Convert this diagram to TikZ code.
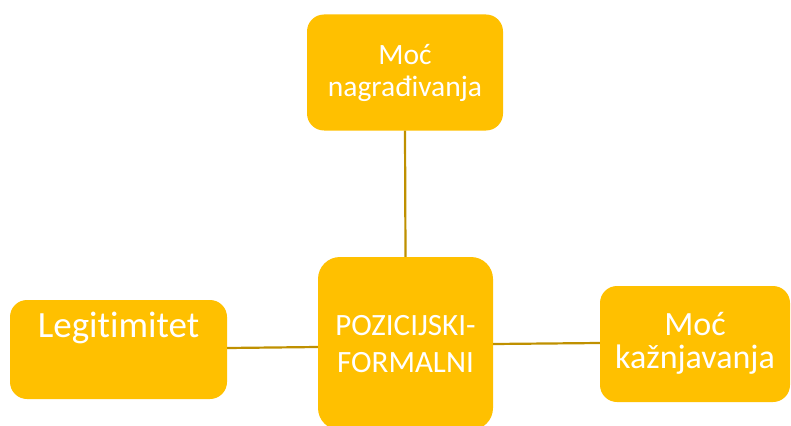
\documentclass[tikz,border=0pt]{standalone}
\usepackage{fontspec}
\setmainfont{Carlito}[Ligatures={NoCommon}]
\definecolor{boxfill}{HTML}{FFC000}
\definecolor{linkcol}{HTML}{BF9000}
\begin{document}
\begin{tikzpicture}[x=1pt,y=-1pt,
  box/.style={draw=none,fill=boxfill,rounded corners=17pt,inner sep=0pt},
  txt/.style={text=white,anchor=base,inner sep=0pt},
  link/.style={draw=linkcol,line width=2.2pt}]
\useasboundingbox (0,0) rectangle (791,425);
\node[box,minimum width=196pt,minimum height=116pt] (top) at (405,72.5) {};
\node[box,rounded corners=22pt,minimum width=175pt,minimum height=173pt] (mid) at (405.5,343.5) {};
\node[box,minimum width=217pt,minimum height=99pt] (left) at (118.5,349.5) {};
\node[box,minimum width=190pt,minimum height=116pt] (right) at (695,344) {};
\draw[link] (top.south) -- (mid.north);
\draw[link] (left.east |- 0,348) -- (mid.west |- 0,347);
\draw[link] (mid.east |- 0,344) -- (right.west |- 0,343);
\node[txt,font=\fontsize{29.5}{34}\selectfont] (t1) at (405,65) {Moć};
\node[txt,font=\fontsize{29.5}{34}\selectfont] (t2) at (405,97) {nagrađivanja};
\node[txt,font=\fontsize{31}{36}\selectfont] (m1) at (405.5,335) {POZICIJSKI-};
\node[txt,font=\fontsize{31}{36}\selectfont] (m2) at (405.5,372) {FORMALNI};
\node[txt,font=\fontsize{37}{42}\selectfont] (l1) at (118.5,337) {Legitimitet};
\node[txt,font=\fontsize{34}{38}\selectfont] (r1) at (695,335) {Moć};
\node[txt,font=\fontsize{34}{38}\selectfont] (r2) at (695,368) {kažnjavanja};
\end{tikzpicture}
\end{document}
